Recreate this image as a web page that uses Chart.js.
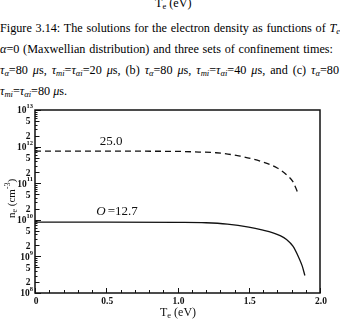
<!DOCTYPE html>
<html>
<head>
<meta charset="utf-8">
<script src="https://cdn.jsdelivr.net/npm/chart.js@4/dist/chart.umd.min.js"></script>
<style>
  body { margin: 0; background: #fff; overflow: hidden; width: 340px; height: 323px; position: relative; }
  .cap { position: absolute; left: 0; font-family: "Liberation Serif", serif; font-size: 12.2px; line-height: 15px; color: #000; text-align: justify; text-align-last: justify; }
  .cap sub { font-size: 0.7em; vertical-align: -0.25em; line-height: 0; }
  .cap i { font-style: italic; }
  #wrap { position: absolute; left: 0; top: 0; width: 340px; height: 323px; }
</style>
</head>
<body>
<div class="cap" style="top:-4px;left:155px;text-align:left;text-align-last:left;">T<sub>e</sub> (eV)</div>
<div class="cap" style="top:21px;width:340px;">Figure 3.14: The solutions for the electron density as functions of <i>T<sub>e</sub></i></div>
<div class="cap" style="top:42px;width:333px;"><i>α</i>=0 (Maxwellian distribution) and three sets of confinement times:</div>
<div class="cap" style="top:63px;width:339px;"><i>τ<sub>α</sub></i>=80 <i>μ</i>s, <i>τ<sub>mi</sub></i>=<i>τ<sub>αi</sub></i>=20 <i>μ</i>s, (b) <i>τ<sub>α</sub></i>=80 <i>μ</i>s, <i>τ<sub>mi</sub></i>=<i>τ<sub>αi</sub></i>=40 <i>μ</i>s, and (c) <i>τ<sub>α</sub></i>=80</div>
<div class="cap" style="top:84px;text-align:left;text-align-last:left;"><i>τ<sub>mi</sub></i>=<i>τ<sub>αi</sub></i>=80 <i>μ</i>s.</div>
<div id="wrap"><canvas id="chart1" width="340" height="323"></canvas></div>
<script>
// solid curve (O = 12.7)
const tempSolid = [0, 0.5, 1.0, 1.2, 1.35, 1.5, 1.6, 1.67, 1.72, 1.765, 1.81, 1.85, 1.875, 1.894];
const densSolid = [8.6e9, 8.6e9, 8.5e9, 8.3e9, 7.6e9, 6.3e9, 5.2e9, 4.4e9, 3.7e9, 2.9e9, 1.9e9, 9.5e8, 5.5e8, 3.0e8];
// dashed curve (25.0)
const tempDashed = [0, 0.5, 1.0, 1.15, 1.27, 1.44, 1.58, 1.70, 1.765, 1.81, 1.844];
const densDashed = [7.5e11, 7.5e11, 7.4e11, 7.1e11, 6.8e11, 5.5e11, 4.0e11, 2.6e11, 1.7e11, 1.1e11, 5.5e10];

const xTickLabels = ["0", "0.5", "1.0", "1.5", "2.0"];
const xTickValues = [0, 0.5, 1.0, 1.5, 2.0];
const yDecades = [8, 9, 10, 11, 12, 13];
const yMinorLabels = [2, 5];
const curveLabels = ["25.0", "=12.7"];

const serif = '"Liberation Serif", serif';
const ink = "#111";

const axesPlugin = {
  id: "axesPlugin",
  afterDraw(chart) {
    const ctx = chart.ctx;
    const a = chart.chartArea;
    const xs = chart.scales.x, ys = chart.scales.y;
    ctx.save();
    ctx.strokeStyle = ink;
    ctx.fillStyle = ink;
    // frame
    ctx.lineWidth = 1.5;
    ctx.strokeRect(a.left, a.top, a.right - a.left, a.bottom - a.top);
    // y ticks
    ctx.lineWidth = 1;
    for (const d of yDecades) {
      for (let m = 1; m <= 9; m++) {
        if (d === 13 && m > 1) break;
        const y = Math.round(ys.getPixelForValue(m * Math.pow(10, d))) + 0.5;
        const len = m === 1 ? 6 : (m === 2 || m === 5 ? 4.5 : 2.5);
        ctx.beginPath();
        ctx.moveTo(a.left, y);
        ctx.lineTo(a.left + len, y);
        ctx.stroke();
      }
    }
    // x ticks
    for (let i = 0; i <= 20; i++) {
      const x = Math.round(xs.getPixelForValue(i / 10)) + 0.5;
      const len = i % 5 === 0 ? 5 : 3;
      ctx.beginPath();
      ctx.moveTo(x, a.bottom);
      ctx.lineTo(x, a.bottom - len);
      ctx.stroke();
    }
    // y labels
    ctx.textBaseline = "middle";
    for (const d of yDecades) {
      const y = ys.getPixelForValue(Math.pow(10, d));
      ctx.textAlign = "right";
      ctx.font = "bold 6.5px " + serif;
      const ex = String(d);
      ctx.fillText(ex, 33, y - 3.5);
      const ew = ctx.measureText(ex).width;
      ctx.font = "bold 9.5px " + serif;
      ctx.fillText("10", 33 - ew, y + 1);
      if (d < 13) {
        for (const m of yMinorLabels) {
          const yy = ys.getPixelForValue(m * Math.pow(10, d));
          ctx.font = "bold 9.5px " + serif;
          ctx.fillText(String(m), 30.5, yy + 1);
        }
      }
    }
    // x labels
    ctx.textAlign = "center";
    ctx.font = "bold 9.5px " + serif;
    xTickValues.forEach((v, i) => {
      ctx.fillText(xTickLabels[i], xs.getPixelForValue(v) + 1, 302);
    });
    // x title
    ctx.textAlign = "left";
    ctx.font = "12px " + serif;
    let tx = 160;
    ctx.fillText("T", tx, 313);
    tx += ctx.measureText("T").width;
    ctx.font = "8.5px " + serif;
    ctx.fillText("e", tx, 316);
    tx += ctx.measureText("e").width;
    ctx.font = "12px " + serif;
    ctx.fillText(" (eV)", tx, 313);
    // y title
    ctx.save();
    ctx.translate(12, 218);
    ctx.rotate(-Math.PI / 2);
    let ty = 0;
    ctx.font = "11px " + serif;
    ctx.fillText("n", ty, 0);
    ty += ctx.measureText("n").width;
    ctx.font = "8px " + serif;
    ctx.fillText("e", ty, 3);
    ty += ctx.measureText("e").width;
    ctx.font = "11px " + serif;
    ctx.fillText(" (cm", ty, 0);
    ty += ctx.measureText(" (cm").width;
    ctx.font = "8px " + serif;
    ctx.fillText("-3", ty, -4);
    ty += ctx.measureText("-3").width;
    ctx.font = "11px " + serif;
    ctx.fillText(")", ty, 0);
    ctx.restore();
    // curve labels
    ctx.font = "13px " + serif;
    ctx.textAlign = "left";
    ctx.fillText(curveLabels[0], xs.getPixelForValue(0.455), ys.getPixelForValue(1.4e12));
    ctx.font = "italic 13px " + serif;
    const ox = xs.getPixelForValue(0.43);
    const oy = ys.getPixelForValue(1.7e10);
    ctx.fillText("O", ox, oy);
    ctx.font = "13px " + serif;
    ctx.fillText(curveLabels[1], ox + ctx.measureText("O").width + 2, oy);
    ctx.restore();
  }
};

const chart1 = document.getElementById("chart1");
const stat1 = new Chart(chart1, {
  type: "line",
  data: {
    datasets: [{
      label: "12.7",
      data: tempSolid.map((t, i) => ({ x: t, y: densSolid[i] })),
      borderColor: ink,
      borderWidth: 1.3,
      pointRadius: 0,
      fill: false,
      cubicInterpolationMode: "monotone",
    }, {
      label: "25.0",
      data: tempDashed.map((t, i) => ({ x: t, y: densDashed[i] })),
      borderColor: ink,
      borderWidth: 1.3,
      borderDash: [6, 4],
      pointRadius: 0,
      fill: false,
      cubicInterpolationMode: "monotone",
    }],
  },
  options: {
    responsive: false,
    animation: false,
    devicePixelRatio: 1,
    layout: { padding: { left: 0, top: 110, right: 20, bottom: 0 } },
    plugins: { legend: { display: false }, tooltip: { enabled: false } },
    scales: {
      x: {
        type: "linear", min: 0, max: 2,
        grid: { display: false }, border: { display: false }, ticks: { display: false },
        afterFit(s) { s.height = 30; },
      },
      y: {
        type: "logarithmic", min: 1e8, max: 1e13,
        grid: { display: false }, border: { display: false }, ticks: { display: false },
        afterFit(s) { s.width = 35; },
      },
    },
  },
  plugins: [axesPlugin],
});
</script>
</body>
</html>
